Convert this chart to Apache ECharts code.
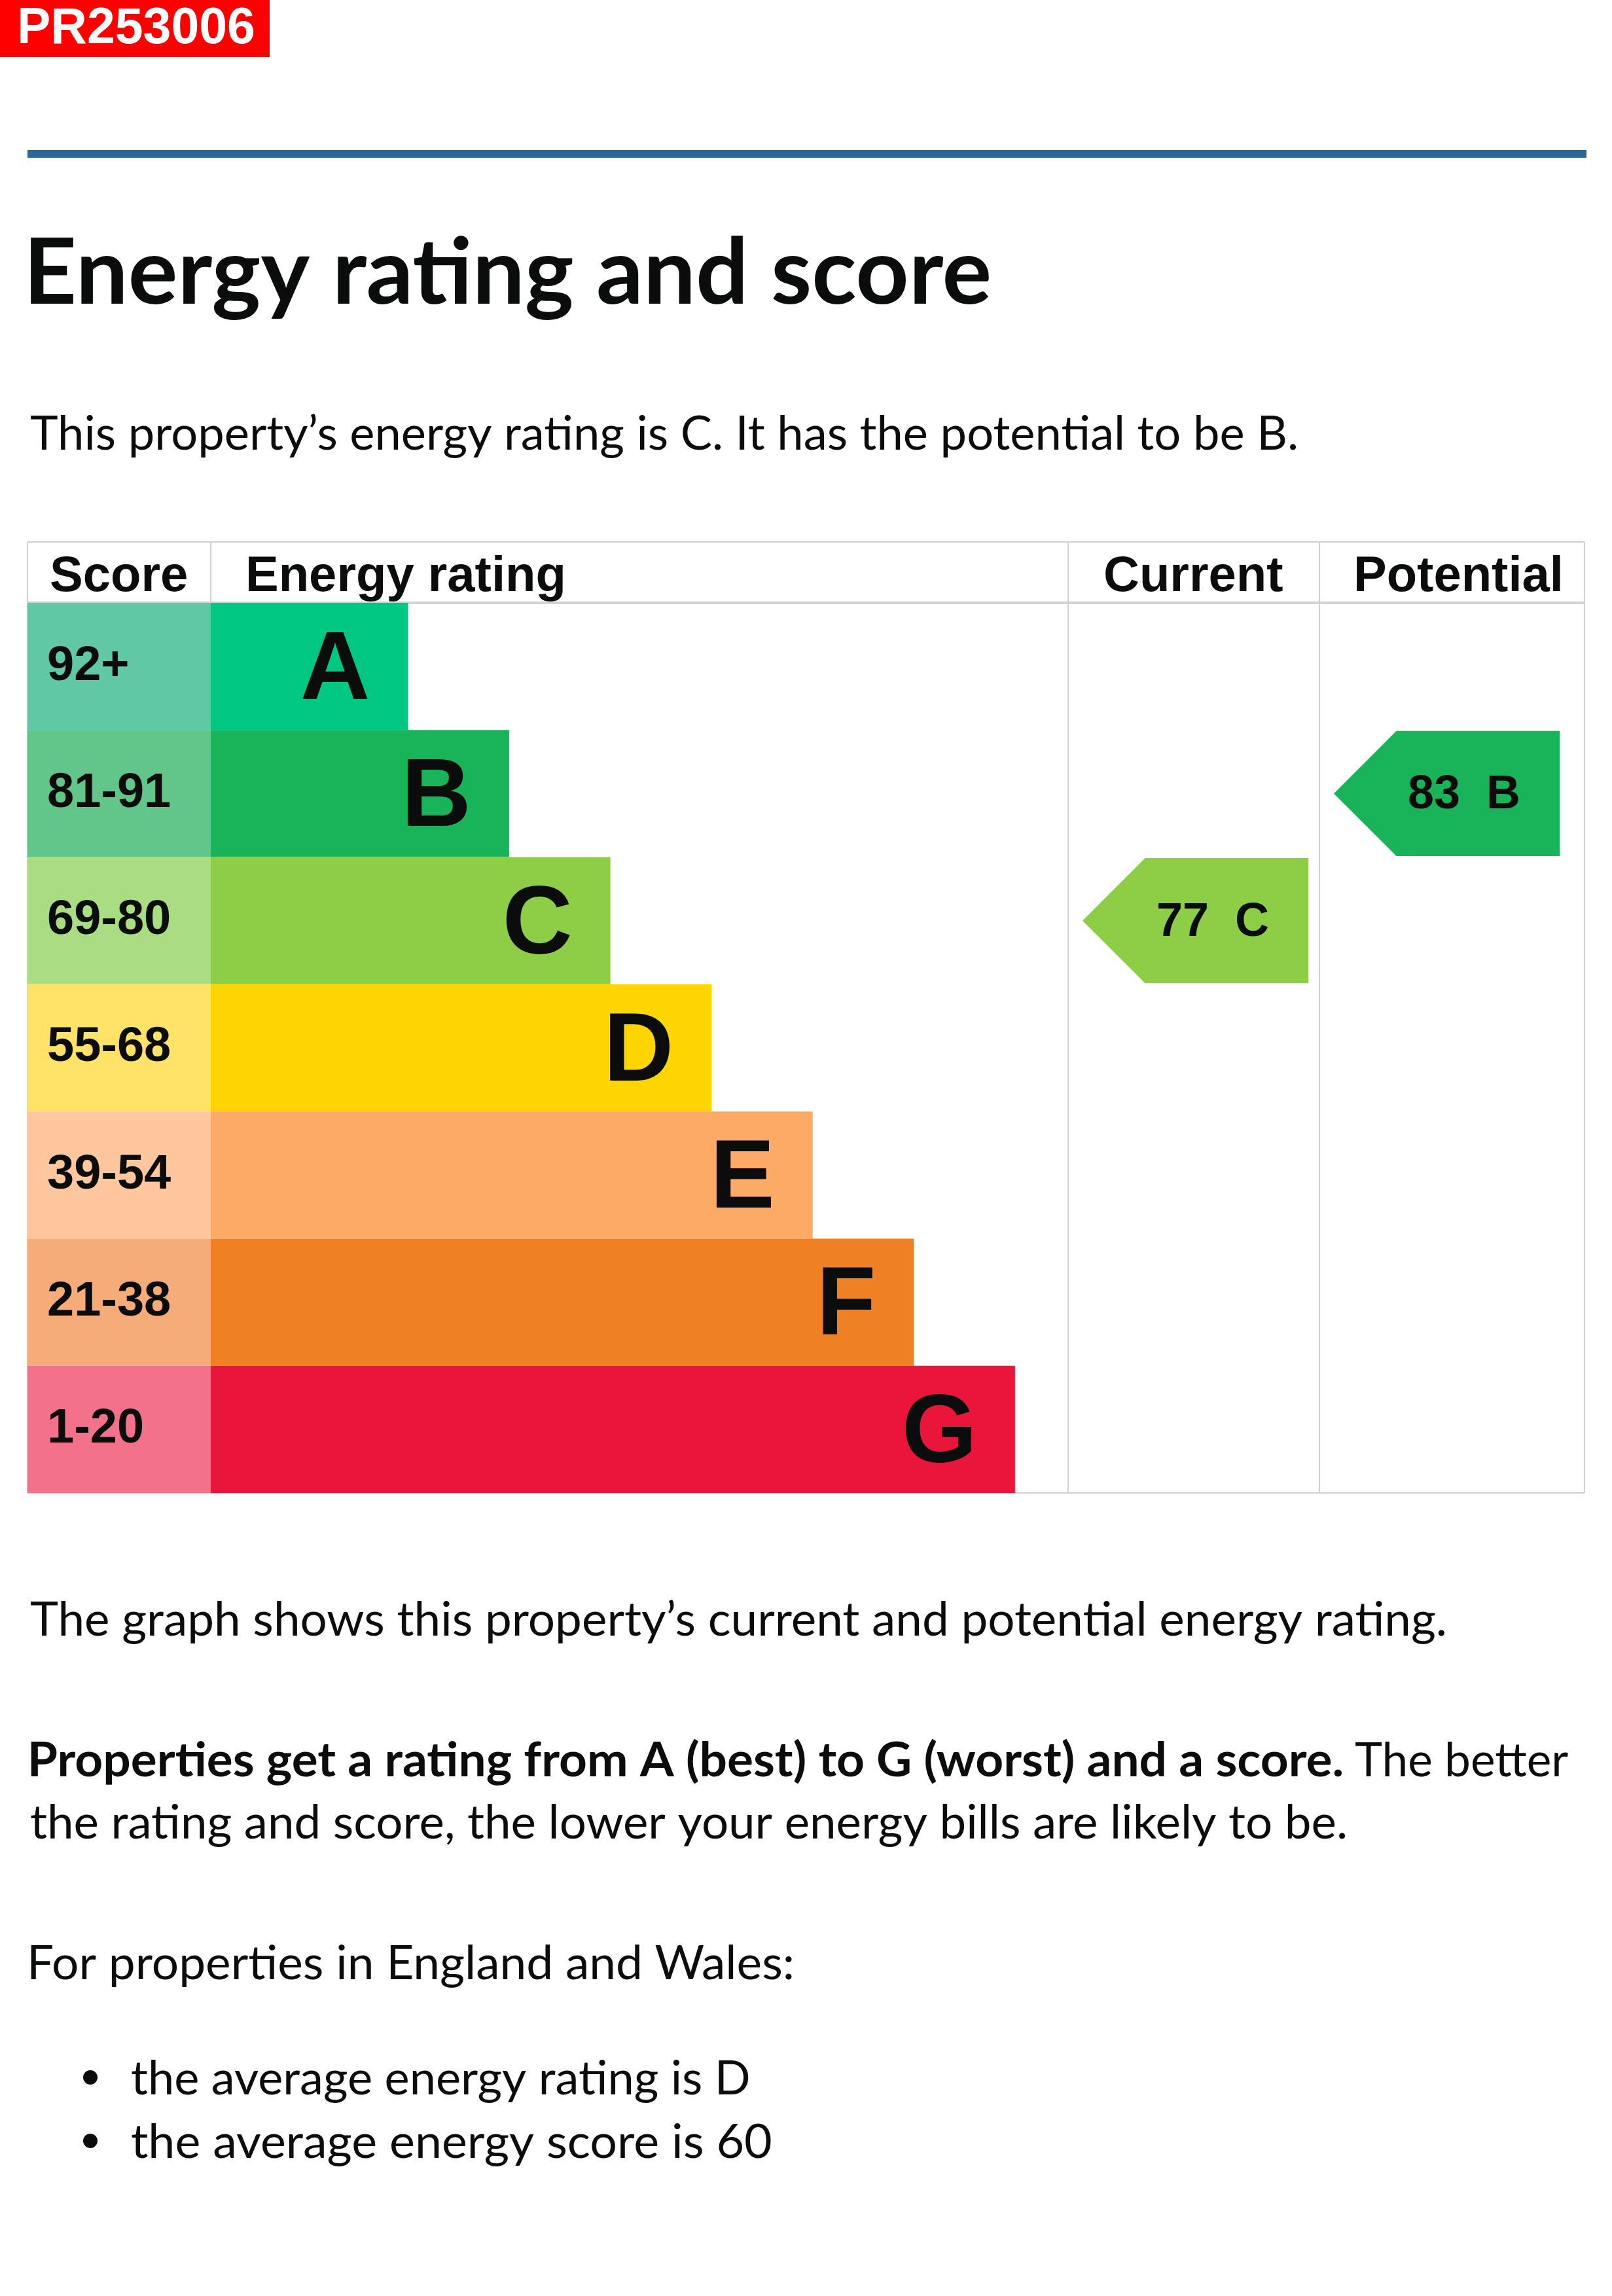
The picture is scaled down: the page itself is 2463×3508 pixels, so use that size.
<!DOCTYPE html>
<html><head><meta charset="utf-8">
<script src="https://cdn.jsdelivr.net/npm/echarts@6/dist/echarts.min.js"></script>
<style>html,body{margin:0;padding:0;background:#fff}#c{width:2463px;height:3508px}</style>
</head><body><div id="c"></div>
<script>
// ---------- data ----------
const ratings = ['A', 'B', 'C', 'D', 'E', 'F', 'G'];
const scoreBands = ['92+', '81-91', '69-80', '55-68', '39-54', '21-38', '1-20'];
const barLength = [39, 59, 79, 99, 119, 139, 159];
const bandColors = ['#00c781', '#19b459', '#8dce46', '#ffd500', '#fcaa65', '#ef8023', '#e9153b'];
const scoreColors = ['#60c8a4', '#62c58a', '#aadc83', '#ffe268', '#fec79e', '#f6ac78', '#f3718a'];
const headers = ['Score', 'Energy rating', 'Current', 'Potential'];
const currentRating = [77, 'C'];
const potentialRating = [83, 'B'];
const refCode = 'PR253006';
const titleText = 'Energy rating and score';
const introText = 'This property\u2019s energy rating is C. It has the potential to be B.';
const graphText = 'The graph shows this property\u2019s current and potential energy rating.';
const boldText = 'Properties get a rating from A (best) to G (worst) and a score.';
const afterBold = 'The better';
const line2Text = 'the rating and score, the lower your energy bills are likely to be.';
const forText = 'For properties in England and Wales:';
const bullets = ['the average energy rating is D', 'the average energy score is 60'];

// ---------- helpers ----------
const INK = '#0b0c0c';
const ARIAL = '"Liberation Sans", Arial, sans-serif';
const BODY = 'Lato, "Noto Sans", sans-serif';
const mctx = document.createElement('canvas').getContext('2d');
function fitText(str, x, y, size, weight, target, family) {
  mctx.font = weight + ' ' + size + 'px ' + family;
  const m = mctx.measureText(str);
  const ink = (m.actualBoundingBoxRight || m.width) + (m.actualBoundingBoxLeft || 0);
  const s = target / ink;
  return {
    type: 'text', x: x + (m.actualBoundingBoxLeft || 0) * s, y: y, scaleX: s, z: 100,
    style: { text: str, x: 0, y: 0, fontSize: size, fontWeight: weight, fontFamily: family,
      fill: INK, align: 'left', verticalAlign: 'middle' }
  };
}
function line(x1, y1, x2, y2, w, c) {
  return { type: 'line', z: 0, shape: { x1, y1, x2, y2 }, style: { stroke: c || '#cfd0d1', lineWidth: w || 2 } };
}

const T = { left: 42, right: 2421, top: 828, head: 921, bottom: 2281 };
const COLS = [42, 322, 1632, 2016, 2421];
const rowsH = T.bottom - T.head;

function arrowItem(params, api) {
  const row = api.value(1);
  const c = api.coord([0, row]);
  const h = api.size([0, 1])[1] - 3;
  const left = params.coordSys.x + 22;
  const w = 345;
  const top = c[1] - h / 2, bot = c[1] + h / 2;
  return {
    type: 'group',
    children: [
      { type: 'polygon', shape: { points: [[left, c[1]], [left + h / 2, top], [left + w, top], [left + w, bot], [left + h / 2, bot]] },
        style: { fill: bandColors[row] } },
      { type: 'text', x: left + w - 60, y: c[1] + 3,
        style: { text: api.value(2) + '  ' + ratings[row], align: 'right', verticalAlign: 'middle',
          fontSize: 72, fontWeight: 'bold', fontFamily: ARIAL, fill: INK } }
    ]
  };
}

const grids = [0, 1, 2, 3].map(i => ({ left: COLS[i], top: T.head, width: COLS[i + 1] - COLS[i], height: rowsH }));
const xMax = [1, 169.5, 1, 1];

const graphicEls = [
  { type: 'rect', shape: { x: 0, y: 0, width: 412, height: 87 }, style: { fill: '#ff0000' } },
  { type: 'text', x: 26, y: 45, style: { text: refCode, fontSize: 77, fontWeight: 'bold', fontFamily: ARIAL, fill: '#fff', verticalAlign: 'middle' } },
  { type: 'rect', shape: { x: 42, y: 229, width: 2382, height: 12 }, style: { fill: '#2b6797' } },
  fitText(titleText, 47, 419, 139, 'bold', 1464, BODY),
  fitText(introText, 47, 664, 72, 'normal', 1933, BODY),
  fitText(graphText, 47, 2476, 72, 'normal', 2160, BODY),
  fitText(boldText, 47, 2691, 72, 'bold', 2003, BODY),
  fitText(afterBold, 2071, 2691, 72, 'normal', 325, BODY),
  fitText(line2Text, 47, 2786, 72, 'normal', 2008, BODY),
  fitText(forText, 47, 3001, 72, 'normal', 1163, BODY),
  fitText(bullets[0], 201, 3177, 72, 'normal', 943, BODY),
  fitText(bullets[1], 201, 3274, 72, 'normal', 977, BODY),
  { type: 'circle', shape: { cx: 138, cy: 3174, r: 11 }, style: { fill: INK } },
  { type: 'circle', shape: { cx: 138, cy: 3271, r: 11 }, style: { fill: INK } },
  // table lines
  line(T.left, T.top, T.right, T.top, 2),
  line(T.left, T.head, T.right, T.head, 4, '#d2d3d4'),
  line(T.left, T.top, T.left, T.bottom, 2),
  line(T.right, T.top, T.right, T.bottom, 2),
  line(T.left, T.bottom, T.right, T.bottom, 2),
  line(COLS[1], T.top, COLS[1], T.head, 2),
  line(COLS[2], T.top, COLS[2], T.bottom, 2),
  line(COLS[3], T.top, COLS[3], T.bottom, 2)
];
const headerX = [76, 375, 1686, 2068];
headers.forEach((h, i) => graphicEls.push({
  type: 'text', x: headerX[i], y: 882, z: 100,
  style: { text: h, fontSize: 76, fontWeight: 'bold', fontFamily: ARIAL, fill: INK, verticalAlign: 'middle' }
}));

const chart = echarts.init(document.getElementById('c'), null, { renderer: 'canvas' });
chart.setOption({
  animation: false,
  backgroundColor: '#ffffff',
  grid: grids,
  xAxis: grids.map((g, i) => ({ type: 'value', gridIndex: i, min: 0, max: xMax[i], show: false })),
  yAxis: grids.map((g, i) => ({ type: 'category', gridIndex: i, data: ratings, inverse: true, show: false })),
  graphic: { elements: graphicEls },
  series: [
    {
      type: 'bar', xAxisIndex: 0, yAxisIndex: 0, barWidth: '100%', silent: true,
      data: scoreBands.map((b, i) => ({ value: 1, itemStyle: { color: scoreColors[i] } })),
      label: { show: true, position: 'insideLeft', distance: 30, formatter: p => scoreBands[p.dataIndex],
        fontSize: 74, fontWeight: 'bold', fontFamily: ARIAL, color: INK }
    },
    {
      type: 'bar', xAxisIndex: 1, yAxisIndex: 1, barWidth: '100%', silent: true,
      data: barLength.map((v, i) => ({ value: v, itemStyle: { color: bandColors[i] } })),
      label: { show: true, position: 'insideRight', distance: 58, offset: [0, 9], formatter: p => ratings[p.dataIndex],
        fontSize: 148, fontWeight: 'bold', fontFamily: ARIAL, color: INK }
    },
    {
      type: 'custom', xAxisIndex: 2, yAxisIndex: 2, silent: true, renderItem: arrowItem,
      encode: { x: 0, y: 1 },
      data: [[0, ratings.indexOf(currentRating[1]), currentRating[0]]]
    },
    {
      type: 'custom', xAxisIndex: 3, yAxisIndex: 3, silent: true, renderItem: arrowItem,
      encode: { x: 0, y: 1 },
      data: [[0, ratings.indexOf(potentialRating[1]), potentialRating[0]]]
    }
  ]
});
</script>
</body></html>
